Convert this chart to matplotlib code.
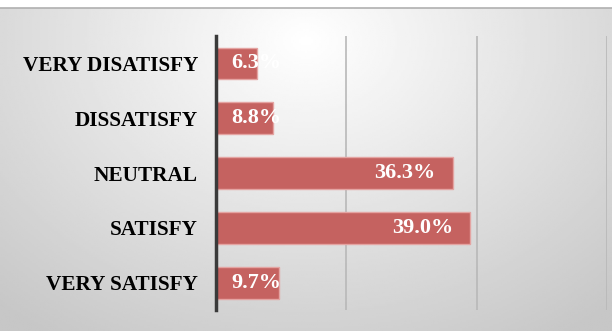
import numpy as np
import matplotlib.pyplot as plt

# survey answers, top to bottom as shown
categories = ['VERY DISATISFY', 'DISSATISFY', 'NEUTRAL', 'SATISFY', 'VERY SATISFY']
percent = [6.3, 8.8, 36.3, 39.0, 9.7]
labels = ['6.3%', '8.8%', '36.3%', '39.0%', '9.7%']

plt.rcParams['font.family'] = ['Liberation Serif', 'DejaVu Serif']

fig = plt.figure(figsize=(6.12, 3.31), dpi=100)

# gray radial background like the Excel chart area
bg = fig.add_axes([0, 0, 1, 0.975])
gx, gy = np.meshgrid(np.linspace(0, 1, 300), np.linspace(0, 1, 160))
r = np.sqrt(((gx - 0.5) / 0.75) ** 2 + ((gy - 0.9) / 1.1) ** 2)
shade = 1.0 - 0.22 * np.clip(r, 0, 1)
bg.imshow(shade, cmap='gray', vmin=0, vmax=1, origin='lower',
          extent=[0, 1, 0, 1], aspect='auto')
bg.set_xlim(0, 1)
bg.set_ylim(0, 1)
bg.axis('off')
fig.add_artist(plt.Line2D([0, 1], [0.975, 0.975], color='#b0b0b0', lw=1.2))

ax = fig.add_axes([0.353, 0.063, 0.639, 0.828])
ax.patch.set_alpha(0)
y = np.arange(len(categories))
ax.barh(y, percent, height=0.58, color='#c56260', edgecolor='#e4a4a2',
        linewidth=1, zorder=3)

for yi, v, lab in zip(y, percent, labels):
    if v > 15:
        ax.text(v - 2.6, yi, lab, ha='right', va='center', color='white',
                fontsize=16, fontweight='bold', zorder=4)
    else:
        ax.text(2.4, yi, lab, ha='left', va='center', color='white',
                fontsize=16, fontweight='bold', zorder=4)

ax.set_xlim(0, 60)
ax.set_ylim(len(categories) - 0.5, -0.5)
ax.set_xticks([20, 40, 60])
ax.set_xticklabels([])
ax.tick_params(axis='x', length=0)
ax.grid(axis='x', color='#b8b8b8', lw=1.2, zorder=1)
ax.set_yticks(y)
ax.set_yticklabels(categories, fontsize=15.3, fontweight='bold')
ax.tick_params(axis='y', length=0, pad=13)
for s in ['top', 'right', 'bottom']:
    ax.spines[s].set_visible(False)
ax.spines['left'].set_color('#3a3a3a')
ax.spines['left'].set_linewidth(2.5)
ax.spines['left'].set_zorder(5)

fig.savefig('out.png', dpi=100)
